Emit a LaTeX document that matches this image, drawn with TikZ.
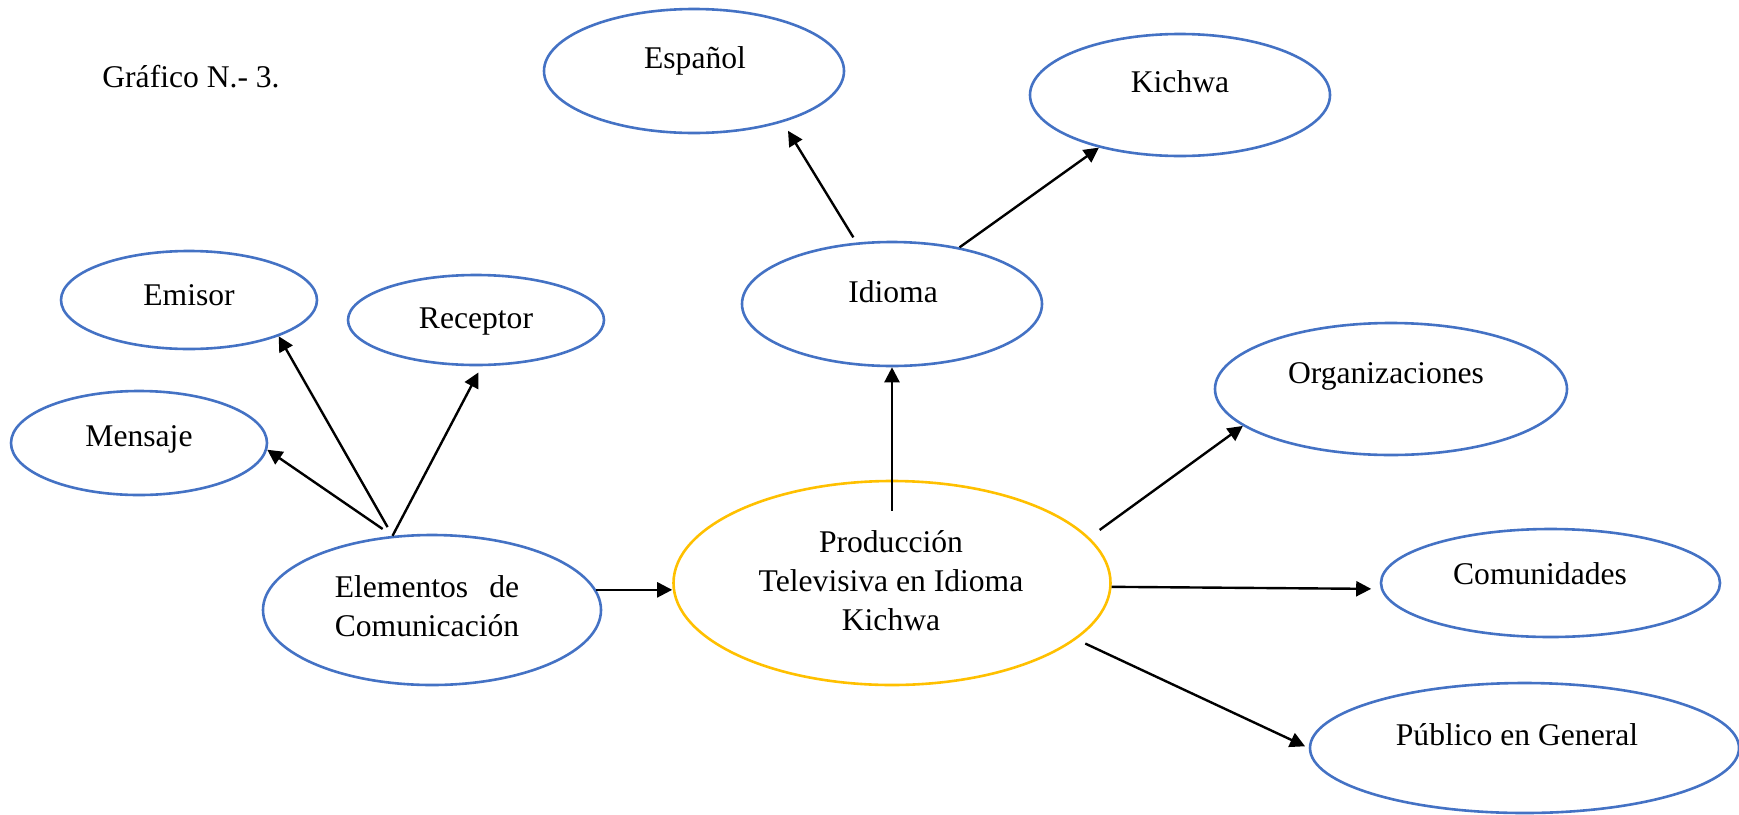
\documentclass[tikz,border=0pt]{standalone}
\usepackage{fontspec}
\setmainfont{Liberation Serif}
\usetikzlibrary{shapes.geometric,arrows.meta,calc}
\definecolor{ellblue}{HTML}{4472C4}
\definecolor{ellyellow}{HTML}{FFC000}
\begin{document}
\begin{tikzpicture}[x=0.5pt,y=-0.5pt,
  ell/.style n args={3}{ellipse, draw=#1, line width=1.3pt, minimum width=#2pt, minimum height=#3pt, inner sep=0pt},
  txt/.style={anchor=base, inner sep=0pt, font=\fontsize{15.8}{19.5}\selectfont},
  conn/.style={-{Triangle[length=7.5pt,width=7.5pt]}, line width=1.2pt}]
\useasboundingbox (0,0) rectangle (1739,814);

% ellipses
\node[ell={ellblue}{150}{62}] (esp) at (694,71) {};
\node[ell={ellblue}{150}{61}] (kich) at (1180,95) {};
\node[ell={ellblue}{150}{62}] (idi) at (892,304) {};
\node[ell={ellblue}{128}{49}] (emi) at (189,300) {};
\node[ell={ellblue}{128}{45}] (rec) at (476,320) {};
\node[ell={ellblue}{128}{52}] (men) at (139,443) {};
\node[ell={ellblue}{169}{75}] (elem) at (432,610) {};
\node[ell={ellyellow}{218.5}{102}] (prod) at (892,583) {};
\node[ell={ellblue}{176}{66}] (org) at (1391,389) {};
\node[ell={ellblue}{169.5}{54}] (com) at (1550.5,583) {};
\node[ell={ellblue}{214.5}{65}] (pub) at (1524.5,748) {};

% texts
\node[txt, anchor=base west] (title) at (102,87) {Gráfico N.- 3.};
\node[txt] (tesp) at (695,68) {Español};
\node[txt] (tkich) at (1180,92) {Kichwa};
\node[txt] (tidi) at (893,302) {Idioma};
\node[txt] (temi) at (189,305) {Emisor};
\node[txt] (trec) at (476,328) {Receptor};
\node[txt] (tmen) at (139,446) {Mensaje};
\node[txt] (torg) at (1386,383) {Organizaciones};
\node[txt] (tcom) at (1540,584) {Comunidades};
\node[txt] (tpub) at (1517,745) {Público en General};
\node[txt] (telem) at (427,597) {\begin{tabular}[t]{@{}c@{}}Elementos\hfill de\\Comunicación\end{tabular}};
\node[txt] (tprod) at (891,552) {\begin{tabular}[t]{@{}c@{}}Producción\\Televisiva en Idioma\\Kichwa\end{tabular}};

% connectors
\draw[conn, shorten <=3pt, shorten >=5pt] (idi.120) -- (esp.-30);
\draw[conn] (idi.40) -- (kich.213);
\draw[conn, shorten <=-15.5pt] (prod.north) -- (idi.south);
\draw[conn, shorten <=6pt] (elem.118) -- (men.-3);
\draw[conn, shorten <=5pt] (elem.118) -- (emi.-22);
\draw[conn, shorten >=3.5pt] (elem.118) -- (rec.-83);
\draw[conn] (elem.7) -- (elem.7 -| prod.west);
\draw[conn, shorten <=6.4pt] (prod.13.5) -- (org.194.5);
\draw[conn, shorten >=4.75pt] (prod.-1) -- (com.182);
\draw[conn, shorten <=5pt, shorten >=2pt] (prod.-17) -- (pub.180);
\end{tikzpicture}
\end{document}
